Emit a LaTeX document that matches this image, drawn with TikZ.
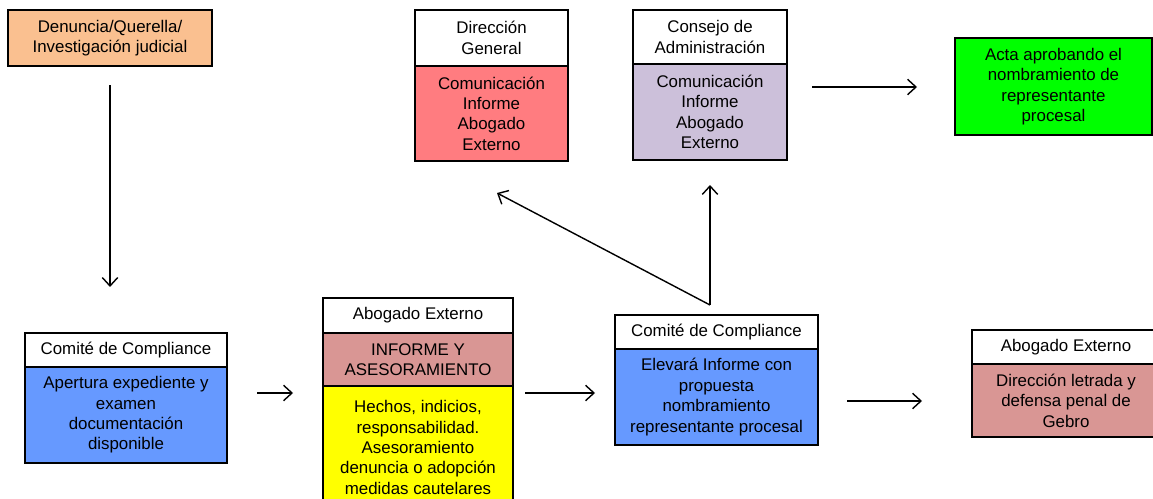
\documentclass[tikz,border=0pt]{standalone}
\usepackage{fontspec}
\setmainfont{Liberation Sans}
\usetikzlibrary{positioning,arrows.meta}

\definecolor{naranja}{HTML}{FAC090}
\definecolor{rojo}{HTML}{FF7C80}
\definecolor{lila}{HTML}{CCC0DA}
\definecolor{verde}{HTML}{00FF00}
\definecolor{azul}{HTML}{6699FF}
\definecolor{rosa}{HTML}{D99694}
\definecolor{amarillo}{HTML}{FFFF00}

\begin{document}
\begin{tikzpicture}[x=0.025cm,y=-0.025cm,
        caja/.style={draw, line width=1.2pt, fill=white, inner sep=0pt, outer sep=0pt,
            align=center, font=\fontsize{12}{14.5}\selectfont},
        flecha/.style={line width=1pt, -{Straight Barb[length=6pt,width=11pt]}}]
        \useasboundingbox (0,0) rectangle (1153,499);

        % Fila superior
        \node[caja, fill=naranja, minimum width=5.1cm, minimum height=1.4cm] (denuncia) at (110,38)
            {Denuncia/Querella/\\Investigación judicial};

        \node[caja, minimum width=3.825cm, minimum height=1.4cm] (dgh) at (491.5,38)
            {Dirección\\General};
        \node[caja, fill=rojo, minimum width=3.825cm, minimum height=2.375cm, below=0pt of dgh] (dgb)
            {Comunicación\\Informe\\Abogado\\Externo};

        \node[caja, minimum width=3.85cm, minimum height=1.35cm] (cah) at (710,37)
            {Consejo de\\Administración};
        \node[caja, fill=lila, minimum width=3.85cm, minimum height=2.4cm, below=0pt of cah] (cab)
            {Comunicación\\Informe\\Abogado\\Externo};

        \node[caja, fill=verde, minimum width=4.925cm, minimum height=2.425cm] (acta) at (1053.5,86.5)
            {Acta aprobando el\\nombramiento de\\representante\\procesal};

        % Fila inferior
        \node[caja, minimum width=5.05cm, minimum height=0.85cm] (cc1h) at (126,350)
            {Comité de Compliance};
        \node[caja, fill=azul, minimum width=5.05cm, minimum height=2.4cm, below=0pt of cc1h] (cc1b)
            {Apertura expediente y\\examen\\documentación\\disponible};

        \node[caja, minimum width=4.75cm, minimum height=0.875cm] (ae2h) at (418,315.5)
            {Abogado Externo};
        \node[caja, fill=rosa, minimum width=4.75cm, minimum height=1.325cm, below=0pt of ae2h] (ae2m)
            {INFORME Y\\ASESORAMIENTO};
        \node[caja, fill=amarillo, minimum width=4.75cm, minimum height=3.075cm, below=0pt of ae2m] (ae2b)
            {Hechos, indicios,\\responsabilidad.\\Asesoramiento\\denuncia o adopción\\medidas cautelares};

        \node[caja, minimum width=5.075cm, minimum height=0.85cm] (cc2h) at (716.5,332)
            {Comité de Compliance};
        \node[caja, fill=azul, minimum width=5.075cm, minimum height=2.4cm, below=0pt of cc2h] (cc2b)
            {Elevará Informe con\\propuesta\\nombramiento\\representante procesal};

        \node[caja, minimum width=4.7cm, minimum height=0.85cm] (ae3h) at (1066,347)
            {Abogado Externo};
        \node[caja, fill=rosa, minimum width=4.7cm, minimum height=1.825cm, below=0pt of ae3h] (ae3b)
            {Dirección letrada y\\defensa penal de\\Gebro};

        % Puntos de las flechas
        \coordinate (p1) at (257,393);
        \coordinate (p2) at (293,393);
        \coordinate (p3) at (525,393);
        \coordinate (p4) at (595,393);
        \coordinate (p5) at (847,401);
        \coordinate (p6) at (922,401);
        \coordinate (p7) at (812,87);
        \coordinate (p8) at (917,87);
        \coordinate (salida) at (710,305);
        \coordinate (haciadg) at (497,193);
        \coordinate (haciaca) at (710,185);

        % Flechas
        \draw[flecha] (denuncia.south) -- (denuncia.south |- cc1h.north)
            [shorten <=0.475cm, shorten >=1.15cm];
        \draw[flecha] (p1) -- (p2);
        \draw[flecha] (p3) -- (p4);
        \draw[flecha] (p5) -- (p6);
        \draw[flecha] (p7) -- (p8);
        \draw[flecha] (salida) -- (haciaca);
        \draw[flecha] (salida) -- (haciadg);
\end{tikzpicture}
\end{document}
